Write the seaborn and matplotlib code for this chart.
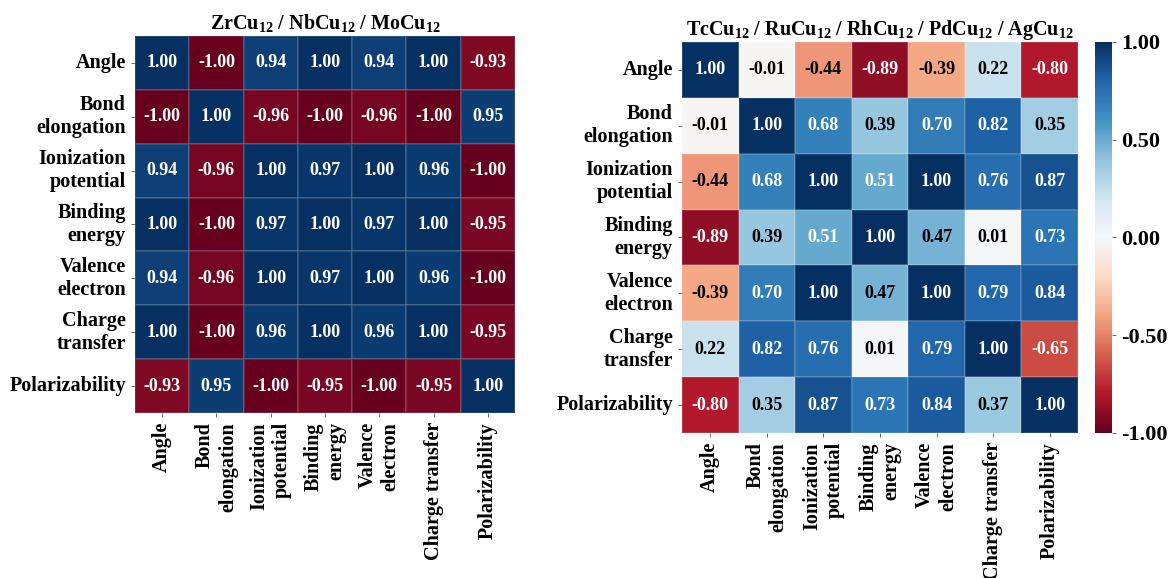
import numpy as np
import pandas as pd
import matplotlib
matplotlib.use("Agg")
import matplotlib.pyplot as plt
import seaborn as sns

features = ["Angle", "Bond\nelongation", "Ionization\npotential", "Binding\nenergy",
            "Valence\nelectron", "Charge\ntransfer", "Polarizability"]
x_features = ["Angle", "Bond\nelongation", "Ionization\npotential", "Binding\nenergy",
              "Valence\nelectron", "Charge transfer", "Polarizability"]

title_left = "ZrCu$_{12}$ / NbCu$_{12}$ / MoCu$_{12}$"
title_right = "TcCu$_{12}$ / RuCu$_{12}$ / RhCu$_{12}$ / PdCu$_{12}$ / AgCu$_{12}$"

corr_left = [
    [1.00, -1.00, 0.94, 1.00, 0.94, 1.00, -0.93],
    [-1.00, 1.00, -0.96, -1.00, -0.96, -1.00, 0.95],
    [0.94, -0.96, 1.00, 0.97, 1.00, 0.96, -1.00],
    [1.00, -1.00, 0.97, 1.00, 0.97, 1.00, -0.95],
    [0.94, -0.96, 1.00, 0.97, 1.00, 0.96, -1.00],
    [1.00, -1.00, 0.96, 1.00, 0.96, 1.00, -0.95],
    [-0.93, 0.95, -1.00, -0.95, -1.00, -0.95, 1.00],
]

corr_right = [
    [1.00, -0.01, -0.44, -0.89, -0.39, 0.22, -0.80],
    [-0.01, 1.00, 0.68, 0.39, 0.70, 0.82, 0.35],
    [-0.44, 0.68, 1.00, 0.51, 1.00, 0.76, 0.87],
    [-0.89, 0.39, 0.51, 1.00, 0.47, 0.01, 0.73],
    [-0.39, 0.70, 1.00, 0.47, 1.00, 0.79, 0.84],
    [0.22, 0.82, 0.76, 0.01, 0.79, 1.00, -0.65],
    [-0.80, 0.35, 0.87, 0.73, 0.84, 0.37, 1.00],
]

cbar_ticks = [1.00, 0.50, 0.00, -0.50, -1.00]

plt.rcParams["font.family"] = ["Liberation Serif", "DejaVu Serif"]
plt.rcParams["font.weight"] = "bold"
plt.rcParams["mathtext.fontset"] = "custom"
plt.rcParams["mathtext.rm"] = "Liberation Serif:bold"
plt.rcParams["mathtext.bf"] = "Liberation Serif:bold"
plt.rcParams["mathtext.default"] = "bf"
plt.rcParams["xtick.color"] = "#555555"
plt.rcParams["ytick.color"] = "#555555"
plt.rcParams["xtick.labelcolor"] = "black"
plt.rcParams["ytick.labelcolor"] = "black"

ANNOT_FS = 13
TICK_FS = 14.5
TITLE_FS = 14.5
CBAR_FS = 16

fig = plt.figure(figsize=(11.72, 5.78), dpi=100)
ax_l = fig.add_axes([0.1152, 0.2855, 0.3242, 0.6522])
ax_r = fig.add_axes([0.5819, 0.2509, 0.3379, 0.6765])
cax = fig.add_axes([0.9343, 0.2509, 0.0145, 0.6765])


def draw(ax, values, title, cbar):
    df = pd.DataFrame(values, index=features, columns=x_features)
    sns.heatmap(df, ax=ax, cmap="RdBu", vmin=-1, vmax=1, annot=True, fmt=".2f",
                annot_kws={"fontsize": ANNOT_FS, "fontweight": "bold"},
                cbar=cbar, cbar_ax=cax if cbar else None,
                linewidths=0.3, linecolor=(1, 1, 1, 0.12), square=False)
    arr = np.array(values)
    for txt, v in zip(ax.texts, arr.ravel()):
        txt.set_color("black" if abs(v) < 0.5 else "white")
    ax.set_title(title, fontsize=TITLE_FS, fontweight="bold", pad=5)
    ax.set_xticklabels(ax.get_xticklabels(), rotation=90, fontsize=TICK_FS,
                       fontweight="bold", va="top", ha="center", multialignment="right")
    ax.set_yticklabels(ax.get_yticklabels(), rotation=0, fontsize=TICK_FS,
                       fontweight="bold", ha="right", multialignment="right")
    ax.tick_params(axis="both", length=3, width=0.6)


draw(ax_l, corr_left, title_left, False)
draw(ax_r, corr_right, title_right, True)

cax.set_yticks(cbar_ticks)
cax.set_yticklabels([f"{t:.2f}" for t in cbar_ticks], fontsize=CBAR_FS, fontweight="bold")
cax.tick_params(length=3, width=0.6)
for s in cax.spines.values():
    s.set_visible(False)

fig.savefig("out.png", dpi=100)
